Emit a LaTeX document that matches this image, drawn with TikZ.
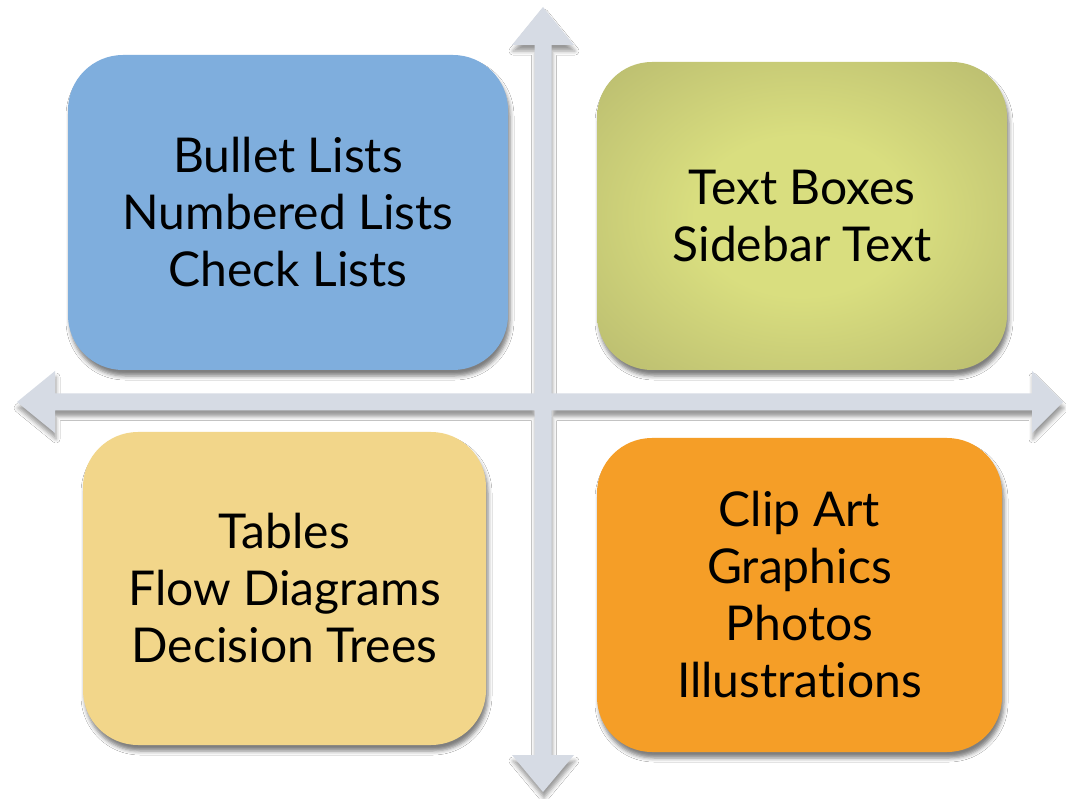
\documentclass[tikz,border=0pt]{standalone}
\usepackage{fontspec}
\setmainfont[Ligatures=NoCommon]{Lato}
\usetikzlibrary{shadows.blur}
\definecolor{axisgrey}{HTML}{D6DBE4}
\definecolor{listblue}{HTML}{7FAEDD}
\definecolor{boxolive}{HTML}{D9DE7F}
\definecolor{boxoliveedge}{HTML}{B9BB6F}
\definecolor{tableyellow}{HTML}{F2D68A}
\definecolor{artorange}{HTML}{F59E27}

%% soft glow: light over most of the box, darker toward the corners
\pgfdeclareradialshading{oliveglow}{\pgfpoint{0bp}{0bp}}{%
  color(0bp)=(boxolive); color(13bp)=(boxolive);
  color(36bp)=(boxoliveedge); color(50bp)=(boxoliveedge)}

\begin{document}
\begin{tikzpicture}[x=1pt, y=-1pt,
  quadrant/.style={rounded corners=55pt, align=center, inner sep=0pt,
    font=\fontsize{48}{57}\selectfont, text=black,
    blur shadow={shadow xshift=2pt, shadow yshift=-6pt,
      shadow blur radius=4pt, shadow opacity=50}},
  axis/.style={fill=axisgrey,
    blur shadow={shadow xshift=1pt, shadow yshift=-6pt,
      shadow blur radius=4pt, shadow opacity=40}}]

  %% white page
  \fill[white] (0,0) rectangle (1066,799);
  \useasboundingbox (0,0) rectangle (1066,799);

  %% the two crossing double arrows, filled as one path
  \path[axis]
    (543,7) -- (574,45) -- (551.5,45) -- (551.5,755) -- (574,755)
      -- (543,792) -- (512,755) -- (534.5,755) -- (534.5,45) -- (512,45) -- cycle
    (17,402) -- (55,371) -- (55,393.5) -- (1032,393.5) -- (1032,371)
      -- (1063,402) -- (1032,433) -- (1032,410.5) -- (55,410.5) -- (55,433) -- cycle;

  %% quadrants
  \node[quadrant, fill=listblue, minimum width=440pt, minimum height=315pt]
    (lists) at (288,212.5) {Bullet Lists\\Numbered Lists\\Check Lists};
  \node[quadrant, shading=oliveglow, minimum width=410pt, minimum height=308pt]
    (boxes) at (802,216) {Text Boxes\\Sidebar Text};
  \node[quadrant, fill=tableyellow, minimum width=403pt, minimum height=313pt]
    (tables) at (284.5,588.5) {Tables\\Flow Diagrams\\Decision Trees};
  \node[quadrant, fill=artorange, minimum width=405pt, minimum height=314pt]
    (art) at (799.5,595) {Clip Art\\Graphics\\Photos\\Illustrations};

\end{tikzpicture}
\end{document}
